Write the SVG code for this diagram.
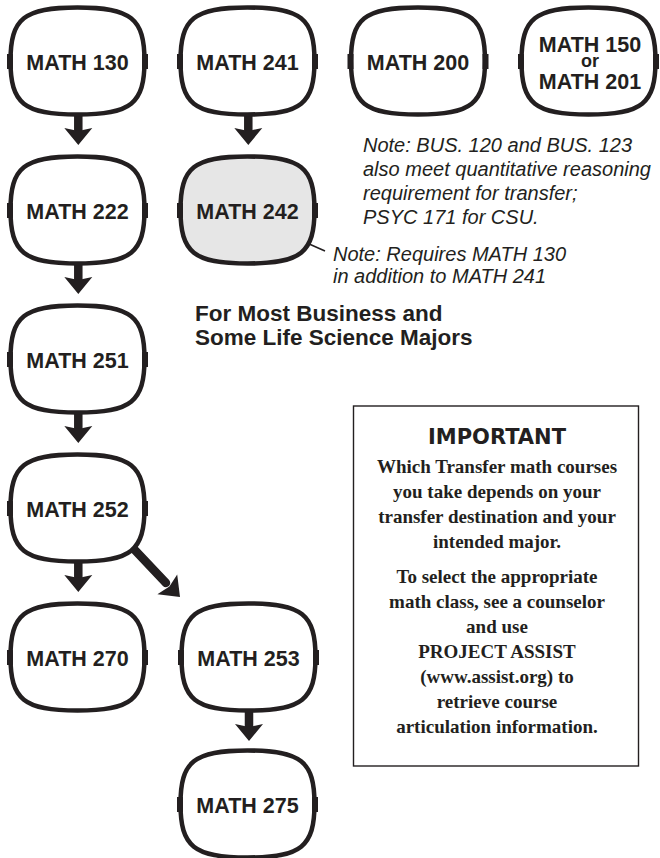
<svg xmlns="http://www.w3.org/2000/svg" xmlns:xlink="http://www.w3.org/1999/xlink" width="660" height="858" viewBox="0 0 660 858">
  <style>
    .outline { stroke:#231f20; stroke-width:4.5; }
    .tick { fill:#231f20; }
    .lbl { font-family:"Liberation Sans",Arial,sans-serif; font-weight:bold; font-size:21.5px; fill:#231f20; text-anchor:middle; }
    .note { font-family:"Liberation Sans",Arial,sans-serif; font-style:italic; font-size:20px; fill:#231f20; }
    .head { font-family:"Liberation Sans",Arial,sans-serif; font-weight:bold; font-size:22.5px; fill:#231f20; }
    .imp { font-family:"DejaVu Sans",sans-serif; font-weight:bold; font-size:21px; fill:#231f20; text-anchor:middle; }
    .body { font-family:"Liberation Serif","Times New Roman",serif; font-weight:bold; font-size:19px; fill:#231f20; text-anchor:middle; }
    .shaft { stroke:#231f20; stroke-width:8.5; stroke-linecap:round; fill:none; }
    .ahead { fill:#231f20; }
    .ptr { stroke:#231f20; stroke-width:1.6; fill:none; }
    .box { fill:none; stroke:#231f20; stroke-width:1.4; }
  </style>
  <defs>
    <g id="shape">
      <path class="outline" d="M-67 0C-67-42.4-53.6-53.5 0-53.5C53.6-53.5 67-42.4 67 0C67 42.4 53.6 53.5 0 53.5C-53.6 53.5-67 42.4-67 0Z"/>
      <rect class="tick" x="-70.5" y="-7" width="6" height="15"/>
      <rect class="tick" x="64.5" y="-7" width="6" height="15"/>
    </g>
  </defs>

  <g id="connectors">
    <g id="e130-222"><line class="shaft" x1="78.3" y1="113" x2="78.3" y2="130"/><polygon class="ahead" points="64.3,128 78.3,131 92.3,128 78.3,145"/></g>
    <g id="e222-251"><line class="shaft" x1="78.3" y1="262" x2="78.3" y2="279"/><polygon class="ahead" points="64.3,277 78.3,280 92.3,277 78.3,294"/></g>
    <g id="e251-252"><line class="shaft" x1="78.3" y1="411" x2="78.3" y2="428"/><polygon class="ahead" points="64.3,426 78.3,429 92.3,426 78.3,443"/></g>
    <g id="e252-270"><line class="shaft" x1="78.3" y1="560" x2="78.3" y2="577"/><polygon class="ahead" points="64.3,575 78.3,578 92.3,575 78.3,592"/></g>
    <g id="e241-242"><line class="shaft" x1="248.3" y1="113" x2="248.3" y2="130"/><polygon class="ahead" points="234.3,128 248.3,131 262.3,128 248.3,145"/></g>
    <g id="e253-275"><line class="shaft" x1="249" y1="709" x2="249" y2="726"/><polygon class="ahead" points="235,724 249,727 263,724 249,741"/></g>
    <g id="e252-253"><line class="shaft" x1="131.5" y1="546.5" x2="166" y2="583" stroke-width="9"/><polygon class="ahead" points="157.4,594.2 169.4,586.4 177.2,574.4 180,597"/></g>
    <line id="note242-pointer" class="ptr" x1="282" y1="232" x2="325" y2="251"/>
  </g>

  <g id="math130"><use xlink:href="#shape" href="#shape" x="77.5" y="61" fill="#fff"/><text class="lbl" x="77.5" y="70">MATH 130</text></g>
  <g id="math241"><use xlink:href="#shape" href="#shape" x="247.5" y="61" fill="#fff"/><text class="lbl" x="247.5" y="70">MATH 241</text></g>
  <g id="math200"><use xlink:href="#shape" href="#shape" x="418" y="61" fill="#fff"/><text class="lbl" x="418" y="70">MATH 200</text></g>
  <g id="math150-201"><use xlink:href="#shape" href="#shape" x="588.5" y="61" fill="#fff"/>
    <text class="lbl" x="590" y="52">MATH 150</text>
    <text class="lbl" x="590" y="66.5" style="font-size:18px">or</text>
    <text class="lbl" x="590" y="89">MATH 201</text>
  </g>
  <g id="math222"><use xlink:href="#shape" href="#shape" x="77.5" y="210" fill="#fff"/><text class="lbl" x="77.5" y="219">MATH 222</text></g>
  <g id="math242"><use xlink:href="#shape" href="#shape" x="247.5" y="210" fill="#e6e6e6"/><text class="lbl" x="247.5" y="219">MATH 242</text></g>
  <g id="math251"><use xlink:href="#shape" href="#shape" x="77.5" y="359" fill="#fff"/><text class="lbl" x="77.5" y="368">MATH 251</text></g>
  <g id="math252"><use xlink:href="#shape" href="#shape" x="77.5" y="508" fill="#fff"/><text class="lbl" x="77.5" y="517">MATH 252</text></g>
  <g id="math270"><use xlink:href="#shape" href="#shape" x="77.5" y="657" fill="#fff"/><text class="lbl" x="77.5" y="666">MATH 270</text></g>
  <g id="math253"><use xlink:href="#shape" href="#shape" x="248.5" y="657" fill="#fff"/><text class="lbl" x="248.5" y="666">MATH 253</text></g>
  <g id="math275"><use xlink:href="#shape" href="#shape" x="247.5" y="804" fill="#fff"/><text class="lbl" x="247.5" y="813">MATH 275</text></g>

  <g id="note-bus">
    <text class="note" x="363" y="152">Note: BUS. 120 and BUS. 123</text>
    <text class="note" x="363" y="176">also meet quantitative reasoning</text>
    <text class="note" x="363" y="200">requirement for transfer;</text>
    <text class="note" x="363" y="223.5">PSYC 171 for CSU.</text>
  </g>

  <g id="note-242">
    <text class="note" x="333" y="261">Note: Requires MATH 130</text>
    <text class="note" x="333" y="283">in addition to MATH 241</text>
  </g>

  <g id="heading">
    <text class="head" x="195" y="321">For Most Business and</text>
    <text class="head" x="195" y="345">Some Life Science Majors</text>
  </g>

  <g id="important">
    <rect class="box" x="353.5" y="406" width="285" height="360"/>
    <text class="imp" x="497" y="444">IMPORTANT</text>
    <text class="body" x="497" y="473">Which Transfer math courses</text>
    <text class="body" x="497" y="498">you take depends on your</text>
    <text class="body" x="497" y="523">transfer destination and your</text>
    <text class="body" x="497" y="548">intended major.</text>
    <text class="body" x="497" y="583">To select the appropriate</text>
    <text class="body" x="497" y="608">math class, see a counselor</text>
    <text class="body" x="497" y="633">and use</text>
    <text class="body" x="497" y="658">PROJECT ASSIST</text>
    <text class="body" x="497" y="683">(www.assist.org) to</text>
    <text class="body" x="497" y="708">retrieve course</text>
    <text class="body" x="497" y="733">articulation information.</text>
  </g>
</svg>
